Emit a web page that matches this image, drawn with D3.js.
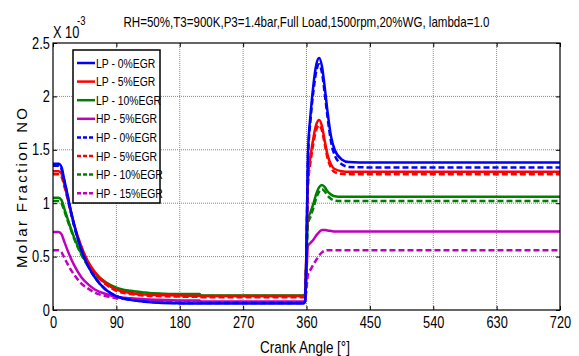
<!DOCTYPE html>
<html>
<head>
<meta charset="utf-8">
<script src="https://cdn.jsdelivr.net/npm/d3@7"></script>
<style>
  body { margin: 0; background: #fff; }
  text { font-family: "Liberation Sans Narrow", "Arial Narrow", "Liberation Sans", sans-serif; fill: #000; }
</style>
</head>
<body>
<div id="chart"></div>
<script>
// crank angle samples (deg)
var theta = [0, 8, 12, 16, 20, 25, 30, 40, 50, 60, 75, 90, 110, 130, 150, 180, 208, 210, 270, 356, 358, 360, 362, 366, 370, 374, 378, 382, 386, 390, 395, 400, 410, 420, 450, 540, 630, 720]

// molar fraction NO (x 1e-3)
var lp0 = [1.37, 1.37, 1.34, 1.22, 1.10, 0.94, 0.80, 0.57, 0.41, 0.30, 0.19, 0.13, 0.095, 0.078, 0.068, 0.062, 0.06, 0.06, 0.06, 0.06, 0.08, 0.6, 1.45, 1.85, 2.12, 2.30, 2.36, 2.28, 2.08, 1.85, 1.62, 1.50, 1.41, 1.385, 1.38, 1.38, 1.38, 1.38]
var lp5 = [1.30, 1.30, 1.28, 1.18, 1.07, 0.93, 0.80, 0.60, 0.45, 0.35, 0.25, 0.19, 0.16, 0.145, 0.14, 0.135, 0.133, 0.13, 0.13, 0.13, 0.15, 0.6, 1.22, 1.45, 1.62, 1.74, 1.78, 1.72, 1.58, 1.45, 1.36, 1.32, 1.30, 1.295, 1.295, 1.295, 1.295, 1.295]
var lp10 = [1.05, 1.05, 1.03, 0.95, 0.87, 0.77, 0.68, 0.53, 0.42, 0.34, 0.26, 0.21, 0.18, 0.165, 0.155, 0.15, 0.15, 0.135, 0.135, 0.135, 0.15, 0.5, 0.85, 0.92, 1.00, 1.09, 1.15, 1.17, 1.15, 1.11, 1.08, 1.065, 1.06, 1.06, 1.06, 1.06, 1.06, 1.06]
var hp5m = [0.73, 0.73, 0.71, 0.64, 0.57, 0.49, 0.42, 0.31, 0.24, 0.19, 0.15, 0.125, 0.11, 0.10, 0.095, 0.09, 0.088, 0.08, 0.08, 0.08, 0.09, 0.35, 0.60, 0.63, 0.66, 0.70, 0.73, 0.75, 0.75, 0.745, 0.74, 0.735, 0.735, 0.735, 0.735, 0.735, 0.735, 0.735]
var hp0 = [1.35, 1.35, 1.32, 1.21, 1.09, 0.93, 0.79, 0.57, 0.41, 0.30, 0.19, 0.13, 0.097, 0.08, 0.07, 0.066, 0.065, 0.065, 0.065, 0.065, 0.085, 0.55, 1.40, 1.80, 2.06, 2.24, 2.30, 2.22, 2.02, 1.80, 1.57, 1.45, 1.365, 1.34, 1.335, 1.335, 1.335, 1.335]
var hp5 = [1.27, 1.27, 1.25, 1.16, 1.06, 0.92, 0.79, 0.59, 0.44, 0.34, 0.24, 0.18, 0.15, 0.135, 0.13, 0.125, 0.123, 0.12, 0.12, 0.12, 0.14, 0.55, 1.15, 1.40, 1.57, 1.69, 1.73, 1.68, 1.55, 1.42, 1.33, 1.29, 1.275, 1.27, 1.27, 1.27, 1.27, 1.27]
var hp10 = [1.02, 1.02, 1.00, 0.93, 0.85, 0.76, 0.67, 0.52, 0.41, 0.33, 0.25, 0.20, 0.175, 0.16, 0.15, 0.145, 0.145, 0.13, 0.13, 0.13, 0.145, 0.45, 0.80, 0.88, 0.96, 1.05, 1.11, 1.13, 1.11, 1.07, 1.04, 1.025, 1.02, 1.02, 1.02, 1.02, 1.02, 1.02]
var hp15 = [0.56, 0.56, 0.54, 0.49, 0.44, 0.38, 0.33, 0.25, 0.20, 0.16, 0.13, 0.11, 0.10, 0.09, 0.085, 0.082, 0.08, 0.07, 0.07, 0.07, 0.08, 0.2, 0.33, 0.38, 0.43, 0.47, 0.51, 0.54, 0.555, 0.56, 0.56, 0.56, 0.56, 0.56, 0.56, 0.56, 0.56, 0.56]

var seriesNames = ['LP - 0%EGR', 'LP - 5%EGR', 'LP - 10%EGR', 'HP - 5%EGR', 'HP - 0%EGR', 'HP - 5%EGR', 'HP - 10%EGR', 'HP - 15%EGR']
var seriesValues = [lp0, lp5, lp10, hp5m, hp0, hp5, hp10, hp15]
var seriesColours = ['#0000ff', '#ff0000', '#008000', '#bf00bf', '#0000ff', '#ff0000', '#008000', '#bf00bf']
var seriesDashed = [false, false, false, false, true, true, true, true]

var xTicks = [0, 90, 180, 270, 360, 450, 540, 630, 720]
var yTicks = [0, 0.5, 1, 1.5, 2, 2.5]

var titleText = "RH=50%,T3=900K,P3=1.4bar,Full Load,1500rpm,20%WG, lambda=1.0"

var width = 579, height = 356
var mLeft = 53, mRight = 560, mTop = 43, mBottom = 310
var narrow = 0.8

var svg = d3.select('#chart').append('svg')
    .attr('width', width)
    .attr('height', height)

var x = d3.scaleLinear().domain([0, 720]).range([mLeft, mRight])
var y = d3.scaleLinear().domain([0, 2.5]).range([mBottom, mTop])

// grid
var grid = svg.append('g').attr('class', 'grid')
grid.selectAll('line.gx')
    .data(xTicks.slice(1, -1))
    .enter().append('line')
    .attr('x1', d => x(d)).attr('x2', d => x(d))
    .attr('y1', mTop).attr('y2', mBottom)
grid.selectAll('line.gy')
    .data(yTicks.slice(1, -1))
    .enter().append('line')
    .attr('y1', d => y(d)).attr('y2', d => y(d))
    .attr('x1', mLeft).attr('x2', mRight)
grid.selectAll('line')
    .attr('stroke', '#888')
    .attr('stroke-width', 1)
    .attr('stroke-dasharray', '1,1')

// curves
var line = d3.line()
    .x((d, i) => x(theta[i]))
    .y(d => y(d))
    .curve(d3.curveMonotoneX)

var order = [7, 3, 6, 2, 5, 1, 4, 0]
svg.append('g').selectAll('path')
    .data(order)
    .enter().append('path')
    .attr('d', k => line(seriesValues[k]))
    .attr('fill', 'none')
    .attr('stroke', k => seriesColours[k])
    .attr('stroke-width', 2.5)
    .attr('stroke-dasharray', k => seriesDashed[k] ? '6,3' : null)

// axes
function styleAxis(g) {
    g.select('.domain').remove()
    g.selectAll('.tick line').attr('stroke', '#000')
    g.selectAll('text').attr('font-size', 16).attr('fill', '#000')
        .attr('transform', 'scale(' + narrow + ',1)')
}
svg.append('g')
    .attr('transform', 'translate(0,' + mBottom + ')')
    .call(d3.axisBottom(x).tickValues(xTicks).tickSize(-4).tickPadding(7).tickFormat(d3.format('d')))
    .call(styleAxis)
svg.append('g')
    .attr('transform', 'translate(0,' + mTop + ')')
    .call(d3.axisTop(x).tickValues(xTicks).tickSize(-4).tickFormat(''))
    .call(styleAxis)
svg.append('g')
    .attr('transform', 'translate(' + mLeft + ',0)')
    .call(d3.axisLeft(y).tickValues(yTicks).tickSize(-4).tickPadding(4).tickFormat(d3.format('')))
    .call(styleAxis)
svg.append('g')
    .attr('transform', 'translate(' + mRight + ',0)')
    .call(d3.axisRight(y).tickValues(yTicks).tickSize(-4).tickFormat(''))
    .call(styleAxis)

svg.append('rect')
    .attr('x', mLeft).attr('y', mTop)
    .attr('width', mRight - mLeft).attr('height', mBottom - mTop)
    .attr('fill', 'none')
    .attr('stroke', '#000')
    .attr('stroke-width', 1.2)

// exponent label
svg.append('text')
    .attr('transform', 'translate(' + mLeft + ',38) scale(' + narrow + ',1)')
    .attr('font-size', 16).text('X 10')
svg.append('text')
    .attr('transform', 'translate(77,25) scale(' + narrow + ',1)')
    .attr('font-size', 12).text('-3')

// title
svg.append('text')
    .attr('x', (mLeft + mRight) / 2).attr('y', 27)
    .attr('text-anchor', 'middle')
    .attr('font-size', 15)
    .attr('textLength', 366)
    .attr('lengthAdjust', 'spacingAndGlyphs')
    .text(titleText)

// axis labels
svg.append('text')
    .attr('x', 305).attr('y', 353)
    .attr('text-anchor', 'middle')
    .attr('font-size', 17)
    .attr('textLength', 90)
    .attr('lengthAdjust', 'spacingAndGlyphs')
    .text('Crank Angle [°]')
svg.append('text')
    .attr('transform', 'translate(27,188) rotate(-90)')
    .attr('text-anchor', 'middle')
    .attr('font-family', '"Liberation Sans", sans-serif')
    .attr('font-size', 15)
    .attr('textLength', 160)
    .attr('lengthAdjust', 'spacing')
    .text('Molar Fraction NO')

// legend
var lg = svg.append('g').attr('class', 'legend')
lg.append('rect')
    .attr('x', 73).attr('y', 50)
    .attr('width', 87).attr('height', 153)
    .attr('fill', '#fff')
    .attr('stroke', '#000')
    .attr('stroke-width', 1.5)
var rows = lg.selectAll('g.row')
    .data(seriesNames)
    .enter().append('g')
    .attr('transform', (d, i) => 'translate(0,' + (63 + i * 18.6) + ')')
rows.append('line')
    .attr('x1', 77).attr('x2', 95)
    .attr('stroke', (d, i) => seriesColours[i])
    .attr('stroke-width', 2.5)
    .attr('stroke-dasharray', (d, i) => seriesDashed[i] ? '4,2' : null)
rows.append('text')
    .attr('transform', 'translate(96,0) scale(' + narrow + ',1)')
    .attr('dy', '0.36em')
    .attr('font-size', 13)
    .text(d => d)
</script>
</body>
</html>
